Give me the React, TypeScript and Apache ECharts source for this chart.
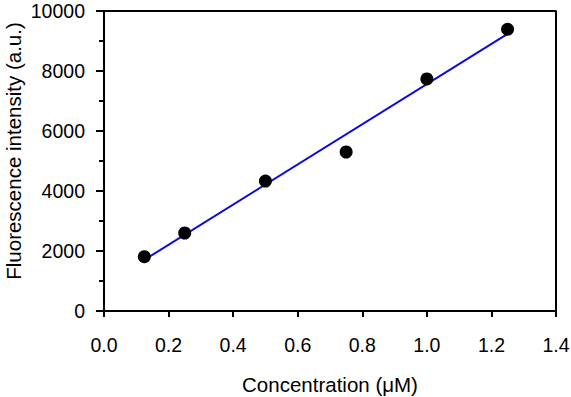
import React, { useEffect, useRef } from "react";
import * as echarts from "echarts";

const concX = [0.125, 0.25, 0.5, 0.75, 1.0, 1.25];
const intensityY = [1810, 2600, 4330, 5300, 7735, 9390];
const fitX = [0.125, 1.25];
const fitY = [1705, 9240];
const yTitle = "Fluorescence intensity (a.u.)";
const xTitle = "Concentration (μM)";

const FONT = "'Liberation Sans', Arial, sans-serif";

export default function App() {
  const ref = useRef<HTMLDivElement>(null);
  useEffect(() => {
    document.body.style.margin = "0";
    if (!ref.current) return;
    const chart = echarts.init(ref.current, null, { renderer: "svg" });
    chart.setOption({
      animation: false,
      backgroundColor: "#fff",
      grid: {
        left: 104,
        right: 15,
        top: 11,
        bottom: 86,
        containLabel: false,
        outerBoundsMode: "none",
      },
      graphic: [
        {
          type: "text",
          x: 13,
          y: 151,
          rotation: Math.PI / 2,
          style: {
            text: yTitle,
            fontFamily: FONT,
            fontSize: 20.5,
            fill: "#000",
            align: "center",
            verticalAlign: "middle",
          },
        },
      ],
      xAxis: {
        type: "value",
        min: 0,
        max: 1.4,
        interval: 0.2,
        name: xTitle,
        nameLocation: "middle",
        nameGap: 63,
        nameTextStyle: { fontFamily: FONT, fontSize: 20.5, color: "#000" },
        axisLine: { show: true, onZero: false, lineStyle: { color: "#000", width: 2 } },
        axisTick: { show: true, inside: false, length: 6, lineStyle: { color: "#000", width: 2 } },
        axisLabel: {
          fontFamily: FONT,
          fontSize: 19.5,
          color: "#000",
          margin: 24,
          formatter: (v: number) => v.toFixed(1),
        },
        splitLine: { show: false },
      },
      yAxis: {
        type: "value",
        min: 0,
        max: 10000,
        interval: 2000,
        axisLine: { show: true, onZero: false, lineStyle: { color: "#000", width: 2 } },
        axisTick: { show: true, inside: false, length: 8, lineStyle: { color: "#000", width: 2 } },
        minorTick: { show: true, splitNumber: 2, length: 5, lineStyle: { color: "#000", width: 2 } },
        axisLabel: {
          fontFamily: FONT,
          fontSize: 19.5,
          color: "#000",
          margin: 19,
          formatter: (v: number) => String(v),
        },
        splitLine: { show: false },
      },
      series: [
        {
          type: "line",
          data: fitX.map((x, i) => [x, fitY[i]]),
          showSymbol: false,
          symbol: "none",
          lineStyle: { color: "#0a0adc", width: 2 },
          z: 2,
        },
        {
          type: "scatter",
          data: concX.map((x, i) => [x, intensityY[i]]),
          symbol: "circle",
          symbolSize: 13,
          itemStyle: { color: "#000", opacity: 1 },
          z: 3,
        },
        {
          type: "line",
          data: [
            [0, 10000],
            [1.4, 10000],
            [1.4, 0],
          ],
          showSymbol: false,
          symbol: "none",
          lineStyle: { color: "#000", width: 2 },
          silent: true,
          z: 1,
        },
      ],
    });
    return () => chart.dispose();
  }, []);
  return <div ref={ref} style={{ width: 571, height: 397 }} />;
}
